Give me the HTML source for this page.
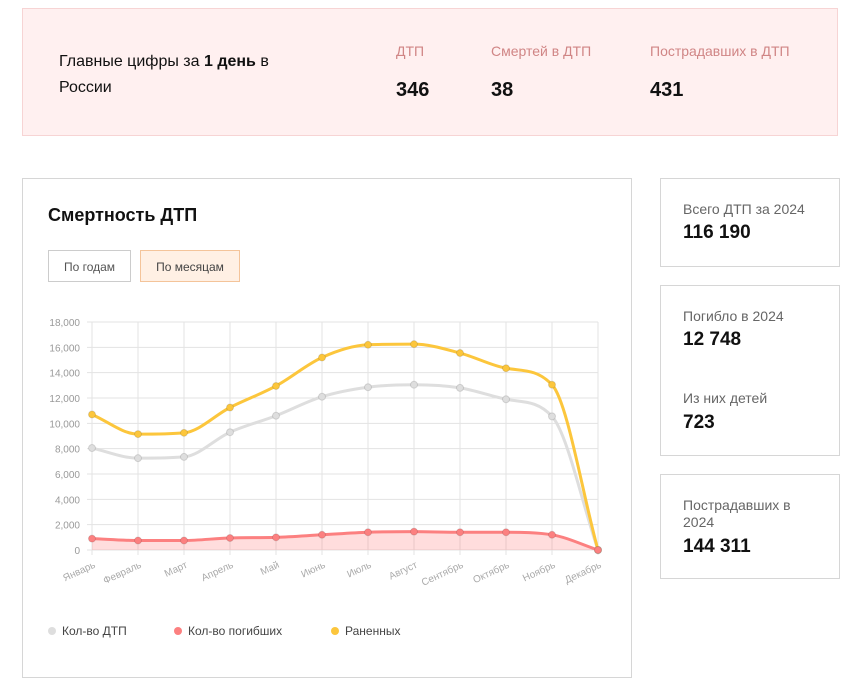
<!DOCTYPE html>
<html><head><meta charset="utf-8"><style>
body{margin:0;width:849px;height:670px;background:#fff;font-family:"Liberation Sans","Noto Sans CJK SC",sans-serif;position:relative;overflow:hidden;color:#111}
.abs{position:absolute}
.top{left:22px;top:8px;width:816px;height:128px;background:#fff0f0;border:1px solid #f7d4d4;box-sizing:border-box}
.lbl{color:#d08585;font-size:14px}
.num{font-weight:bold;font-size:20px}
.card{border:1px solid #d6d6d6;box-sizing:border-box}
.sg{font-size:14px;color:#666}
.sv{font-size:19px;font-weight:bold}
.btn{font-size:12px;height:32px;line-height:32px;box-sizing:border-box;text-align:center}
</style></head><body>
<div class="abs top">
 <div class="abs" style="left:36px;top:40px;font-size:16px;line-height:26px;width:230px">Главные цифры за <b>1 день</b> в России</div>
 <div class="abs lbl" style="left:373px;top:34px">ДТП</div>
 <div class="abs num" style="left:373px;top:70px">346</div>
 <div class="abs lbl" style="left:468px;top:34px">Смертей в ДТП</div>
 <div class="abs num" style="left:468px;top:70px">38</div>
 <div class="abs lbl" style="left:627px;top:34px">Пострадавших в ДТП</div>
 <div class="abs num" style="left:627px;top:70px">431</div>
</div>
<div class="abs card" style="left:22px;top:178px;width:610px;height:500px">
 <div class="abs" style="left:25px;top:26px;font-size:18px;font-weight:bold">Смертность ДТП</div>
 <div class="abs btn" style="left:25px;top:71px;width:83px;border:1px solid #ccc;color:#555">По годам</div>
 <div class="abs btn" style="left:117px;top:71px;width:100px;border:1px solid #f4c49a;background:#fff0e4;color:#444">По месяцам</div>
</div>
<svg class="abs" style="left:0;top:0" width="849" height="670" id="chart"></svg>
<div class="abs card" style="left:660px;top:178px;width:180px;height:89px">
 <div class="abs sg" style="left:22px;top:22px">Всего ДТП за 2024</div>
 <div class="abs sv" style="left:22px;top:43px">116 190</div>
</div>
<div class="abs card" style="left:660px;top:285px;width:180px;height:171px">
 <div class="abs sg" style="left:22px;top:22px">Погибло в 2024</div>
 <div class="abs sv" style="left:22px;top:43px">12 748</div>
 <div class="abs sg" style="left:22px;top:104px">Из них детей</div>
 <div class="abs sv" style="left:22px;top:126px">723</div>
</div>
<div class="abs card" style="left:660px;top:474px;width:180px;height:105px">
 <div class="abs sg" style="left:22px;top:22px;line-height:17px">Пострадавших в<br>2024</div>
 <div class="abs sv" style="left:22px;top:61px">144 311</div>
</div>
<script>
const months=["Январь","Февраль","Март","Апрель","Май","Июнь","Июль","Август","Сентябрь","Октябрь","Ноябрь","Декабрь"];
const dtp=[8050,7250,7350,9300,10600,12100,12850,13050,12800,11900,10550,0];
const deaths=[900,750,750,950,1000,1200,1400,1450,1400,1400,1200,0];
const injured=[10700,9150,9250,11250,12950,15200,16200,16250,15550,14350,13050,0];
const yTicks=[0,2000,4000,6000,8000,10000,12000,14000,16000,18000];
const svg=document.getElementById('chart');const NS='http://www.w3.org/2000/svg';
const X0=92,X1=598,Y0=550,Y1=322,YMAX=18000;
const xs=i=>X0+(X1-X0)*i/(months.length-1);
const ys=v=>Y0-(Y0-Y1)*v/YMAX;
function mk(t,a,p){const e=document.createElementNS(NS,t);for(const k in a)e.setAttribute(k,a[k]);(p||svg).appendChild(e);return e;}
yTicks.forEach(t=>{const y=ys(t);
 const l=mk('line',{x1:X0-5,x2:X1,y1:y,y2:y,stroke:'#e3e3e3'});
 
 
 const tx=mk('text',{x:X0-12,y:y+4,'text-anchor':'end','font-size':10,fill:'#999'});tx.textContent=t.toLocaleString('en-US');
 
 });
months.forEach((m,i)=>{const x=xs(i);
 const l=mk('line',{x1:x,x2:x,y1:Y1,y2:Y0+5,stroke:'#e3e3e3'});
 
 
 const tx=mk('text',{x:x+4,y:Y0+17,'text-anchor':'end','font-size':10,fill:'#aaa',transform:`rotate(-25 ${x+4} ${Y0+17})`});tx.textContent=m;
 
 });
function path(d){const p=d.map((v,i)=>[xs(i),ys(v)]);const n=p.length;const h=p[1][0]-p[0][0];
 const del=[];for(let i=0;i<n-1;i++)del.push((p[i+1][1]-p[i][1])/h);
 const m=[];for(let i=0;i<n;i++){if(i==0)m.push(del[0]);else if(i==n-1)m.push(del[n-2]);else m.push(del[i-1]*del[i]<=0?0:(del[i-1]+del[i])/2);}
 for(let i=0;i<n-1;i++){if(del[i]==0){m[i]=0;m[i+1]=0;continue;}const a=m[i]/del[i],b=m[i+1]/del[i],s=a*a+b*b;if(s>9){const t=3/Math.sqrt(s);m[i]=t*a*del[i];m[i+1]=t*b*del[i];}}
 let s=`M${p[0][0]},${p[0][1]}`;
 for(let i=0;i<n-1;i++){s+=` C${p[i][0]+h/3},${p[i][1]+m[i]*h/3} ${p[i+1][0]-h/3},${p[i+1][1]-m[i+1]*h/3} ${p[i+1][0]},${p[i+1][1]}`;}return s;}
const fill=mk('path',{d:path(deaths)+` L${xs(11)},${Y0} L${xs(0)},${Y0} Z`,fill:'rgba(255,120,120,0.25)'});


[[dtp,'#dedede','dtp'],[injured,'#fcc63c','injured'],[deaths,'#fc8080','deaths']].forEach(([d,c,n])=>{
 const p=mk('path',{d:path(d),fill:'none',stroke:c,'stroke-width':3});
 
 
 d.forEach((v,i)=>{const pt=mk('circle',{cx:xs(i),cy:ys(v),r:3.5,fill:c,stroke:'rgba(0,0,0,0.12)'});
  
  });});
[['Кол-во ДТП','#dedede',48],['Кол-во погибших','#fc8080',174],['Раненных','#fcc63c',331]].forEach(([t,c,x])=>{
 const g=mk('g',{});
 
 
 mk('circle',{cx:x+4,cy:631,r:4,fill:c},g);
 const tx=mk('text',{x:x+14,y:635,'font-size':12,fill:'#444'},g);tx.textContent=t;});
</script>
</body></html>
